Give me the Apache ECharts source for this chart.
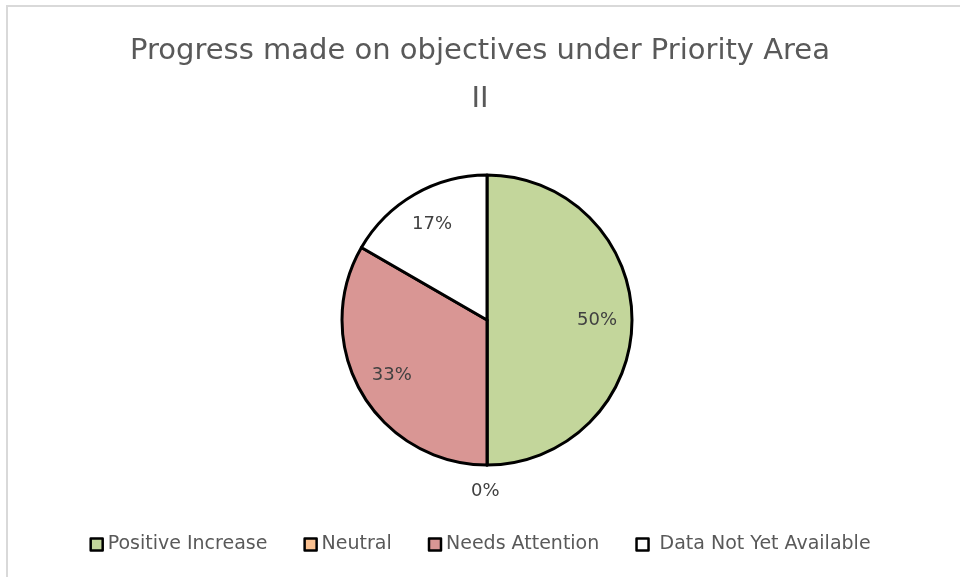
<!DOCTYPE html>
<html>
<head>
<meta charset="utf-8">
<script src="https://cdn.jsdelivr.net/npm/echarts@6/dist/echarts.min.js"></script>
<style>
    html, body { margin: 0; padding: 0; background: #fff; overflow: hidden; }
    #frame {
        position: absolute; left: 6px; top: 5px;
        width: 960px; height: 580px;
        border: 2px solid #d9d9d9;
    }
    #pieChart { position: absolute; left: 0; top: 0; width: 960px; height: 577px; }
</style>
</head>
<body>
<div id="frame"></div>
<div id="pieChart"></div>
<script>
// 数据
var categories = ['Positive Increase', 'Neutral', 'Needs Attention', ' Data Not Yet Available'];
var counts = [3, 0, 2, 1];
var colors = ['#C3D69B', '#FAC090', '#D99694', '#FFFFFF'];

function pieInit() {
    var mainData = [];
    var labelData = [];
    for (var i = 0; i < categories.length; i++) {
        var zero = counts[i] === 0;
        mainData.push({
            value: counts[i],
            name: categories[i],
            itemStyle: { color: colors[i] },
            // 0% 的标签放在饼图外面
            label: { show: zero }
        });
        labelData.push({
            value: counts[i],
            name: categories[i],
            label: { show: !zero }
        });
    }

    var labelText = {
        fontFamily: 'DejaVu Sans',
        fontSize: 18,
        color: '#404040',
        formatter: function (p) { return Math.round(p.percent) + '%'; }
    };

    var option = {
        title: {
            text: 'Progress made on objectives under Priority Area\nII',
            left: 'center',
            top: 22,
            textStyle: {
                fontFamily: 'DejaVu Sans',
                fontSize: 29,
                fontWeight: 'normal',
                color: '#595959',
                lineHeight: 48
            }
        },
        legend: {
            bottom: 18,
            left: 'center',
            icon: 'rect',
            itemWidth: 12,
            itemHeight: 12,
            itemGap: 36,
            data: categories,
            itemStyle: { borderColor: '#000', borderWidth: 2.5 },
            textStyle: { fontFamily: 'DejaVu Sans', fontSize: 19, color: '#595959' }
        },
        series: [
            {
                name: 'Progress',
                type: 'pie',
                center: [487, 320],
                radius: 145,
                startAngle: 90,
                clockwise: true,
                avoidLabelOverlap: false,
                itemStyle: { borderColor: '#000', borderWidth: 3 },
                label: Object.assign({ position: 'outside', distanceToLabelLine: 0, offset: [-16, 0] }, labelText),
                labelLine: { show: false, length: 26, length2: 0 },
                emphasis: { disabled: true },
                data: mainData
            },
            {
                // 透明的系列，只用来放置标签
                name: 'Labels',
                type: 'pie',
                center: [487, 320],
                radius: [0, 214],
                startAngle: 90,
                clockwise: true,
                silent: true,
                avoidLabelOverlap: false,
                itemStyle: { color: 'rgba(0,0,0,0)', borderWidth: 0 },
                label: Object.assign({ position: 'inside' }, labelText),
                labelLine: { show: false },
                emphasis: { disabled: true },
                data: labelData
            }
        ]
    };
    var chart = echarts.init(document.getElementById('pieChart'));
    chart.setOption(option);
}

pieInit();
</script>
</body>
</html>
